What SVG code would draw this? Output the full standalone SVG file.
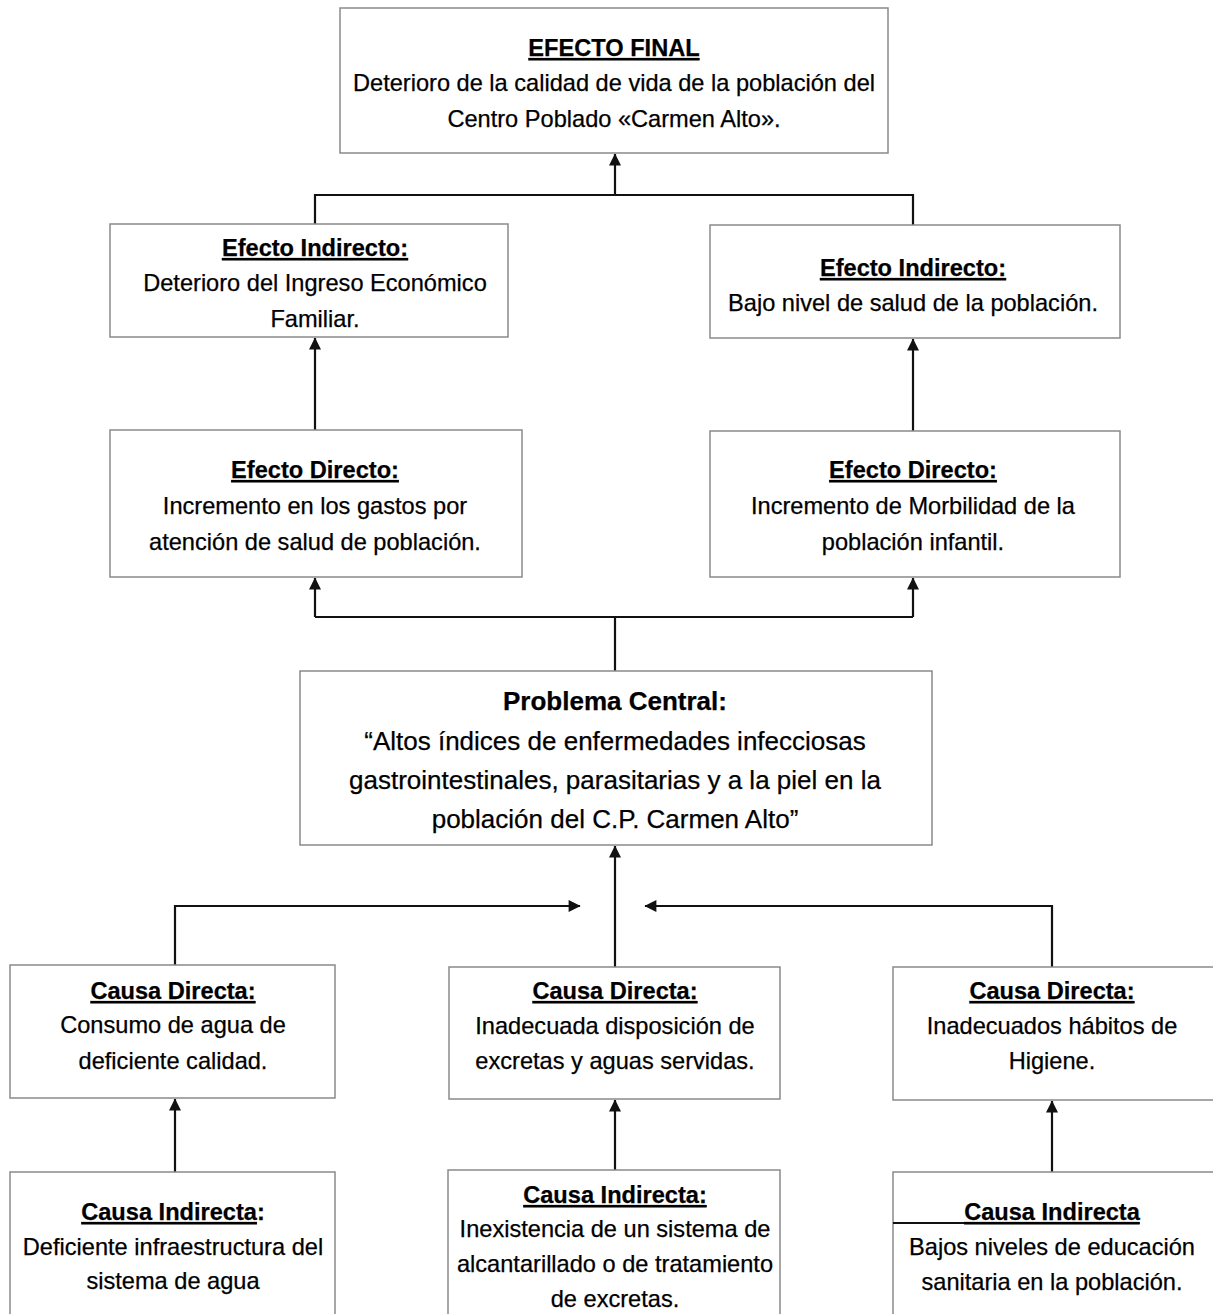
<svg xmlns="http://www.w3.org/2000/svg" width="1213" height="1314" viewBox="0 0 1213 1314">
<style>
.box{fill:#fff;stroke:#8a8a8a;stroke-width:1.5}
text{font-family:"Liberation Sans",Arial,sans-serif;font-size:23.6px;fill:#000;stroke:#000;stroke-width:0.25;text-anchor:middle}
.h{font-weight:bold;text-decoration:underline}
.c{font-size:26px}
.ln{fill:none;stroke:#111;stroke-width:2.2}
</style>
<defs>
<marker id="a" viewBox="0 0 10 10" refX="9.5" refY="5" markerWidth="18" markerHeight="12" orient="auto" markerUnits="userSpaceOnUse">
<path d="M0,0 L10,5 L0,10 z" fill="#111"/>
</marker>
</defs>
<rect width="1213" height="1314" fill="#fff"/>
<g id="connectors">
<path class="ln" d="M315,224 V195 H913 V225"/>
<path class="ln" d="M615,195 V154" marker-end="url(#a)"/>
<path class="ln" d="M315,430 V338" marker-end="url(#a)"/>
<path class="ln" d="M913,431 V339" marker-end="url(#a)"/>
<path class="ln" d="M615,671 V617"/>
<path class="ln" d="M315,617 H913" stroke-width="3"/>
<path class="ln" d="M315,617 V578" marker-end="url(#a)"/>
<path class="ln" d="M913,617 V578" marker-end="url(#a)"/>
<path class="ln" d="M615,967 V846" marker-end="url(#a)"/>
<path class="ln" d="M175,965 V906 H580" marker-end="url(#a)"/>
<path class="ln" d="M1052,967 V906 H645" marker-end="url(#a)"/>
<path class="ln" d="M175,1172 V1099" marker-end="url(#a)"/>
<path class="ln" d="M615,1170 V1100" marker-end="url(#a)"/>
<path class="ln" d="M1052,1172 V1101" marker-end="url(#a)"/>
</g>
<g id="efecto-final">
<rect class="box" x="340" y="8" width="548" height="145"/>
<text x="614" y="56" class="h">EFECTO FINAL</text>
<text x="614" y="91">Deterioro de la calidad de vida de la población del</text>
<text x="614" y="127">Centro Poblado «Carmen Alto».</text>
</g>
<g id="efecto-indirecto-1">
<rect class="box" x="110" y="224" width="398" height="113"/>
<text x="315" y="256" class="h">Efecto Indirecto:</text>
<text x="315" y="291">Deterioro del Ingreso Económico</text>
<text x="315" y="327">Familiar.</text>
</g>
<g id="efecto-indirecto-2">
<rect class="box" x="710" y="225" width="410" height="113"/>
<text x="913" y="276" class="h">Efecto Indirecto:</text>
<text x="913" y="311">Bajo nivel de salud de la población.</text>
</g>
<g id="efecto-directo-1">
<rect class="box" x="110" y="430" width="412" height="147"/>
<text x="315" y="478" class="h">Efecto Directo:</text>
<text x="315" y="514">Incremento en los gastos por</text>
<text x="315" y="550">atención de salud de población.</text>
</g>
<g id="efecto-directo-2">
<rect class="box" x="710" y="431" width="410" height="146"/>
<text x="913" y="478" class="h">Efecto Directo:</text>
<text x="913" y="514">Incremento de Morbilidad de la</text>
<text x="913" y="550">población infantil.</text>
</g>
<g id="problema-central">
<rect class="box" x="300" y="671" width="632" height="174"/>
<text x="615" y="710" class="c" font-weight="bold">Problema Central:</text>
<text x="615" y="750" class="c">“Altos índices de enfermedades infecciosas</text>
<text x="615" y="789" class="c">gastrointestinales, parasitarias y a la piel en la</text>
<text x="615" y="828" class="c">población del C.P. Carmen Alto”</text>
</g>
<g id="causa-directa-1">
<rect class="box" x="10" y="965" width="325" height="133"/>
<text x="173" y="999" class="h">Causa Directa:</text>
<text x="173" y="1033">Consumo de agua de</text>
<text x="173" y="1069">deficiente calidad.</text>
</g>
<g id="causa-directa-2">
<rect class="box" x="449" y="967" width="331" height="132"/>
<text x="615" y="999" class="h">Causa Directa:</text>
<text x="615" y="1034">Inadecuada disposición de</text>
<text x="615" y="1069">excretas y aguas servidas.</text>
</g>
<g id="causa-directa-3">
<rect class="box" x="893" y="967" width="330" height="133"/>
<text x="1052" y="999" class="h">Causa Directa:</text>
<text x="1052" y="1034">Inadecuados hábitos de</text>
<text x="1052" y="1069">Higiene.</text>
</g>
<g id="causa-indirecta-1">
<rect class="box" x="10" y="1172" width="325" height="150"/>
<text x="173" y="1220"><tspan class="h">Causa Indirecta</tspan><tspan font-weight="bold">:</tspan></text>
<text x="173" y="1255">Deficiente infraestructura del</text>
<text x="173" y="1289">sistema de agua</text>
</g>
<g id="causa-indirecta-2">
<rect class="box" x="448" y="1170" width="332" height="152"/>
<text x="615" y="1203" class="h">Causa Indirecta:</text>
<text x="615" y="1237">Inexistencia de un sistema de</text>
<text x="615" y="1272">alcantarillado o de tratamiento</text>
<text x="615" y="1307">de excretas.</text>
</g>
<g id="causa-indirecta-3">
<rect class="box" x="893" y="1172" width="330" height="150"/>
<line x1="893" y1="1223" x2="966" y2="1223" stroke="#111" stroke-width="2"/>
<text x="1052" y="1220" class="h">Causa Indirecta</text>
<text x="1052" y="1255">Bajos niveles de educación</text>
<text x="1052" y="1290">sanitaria en la población.</text>
</g>
</svg>
